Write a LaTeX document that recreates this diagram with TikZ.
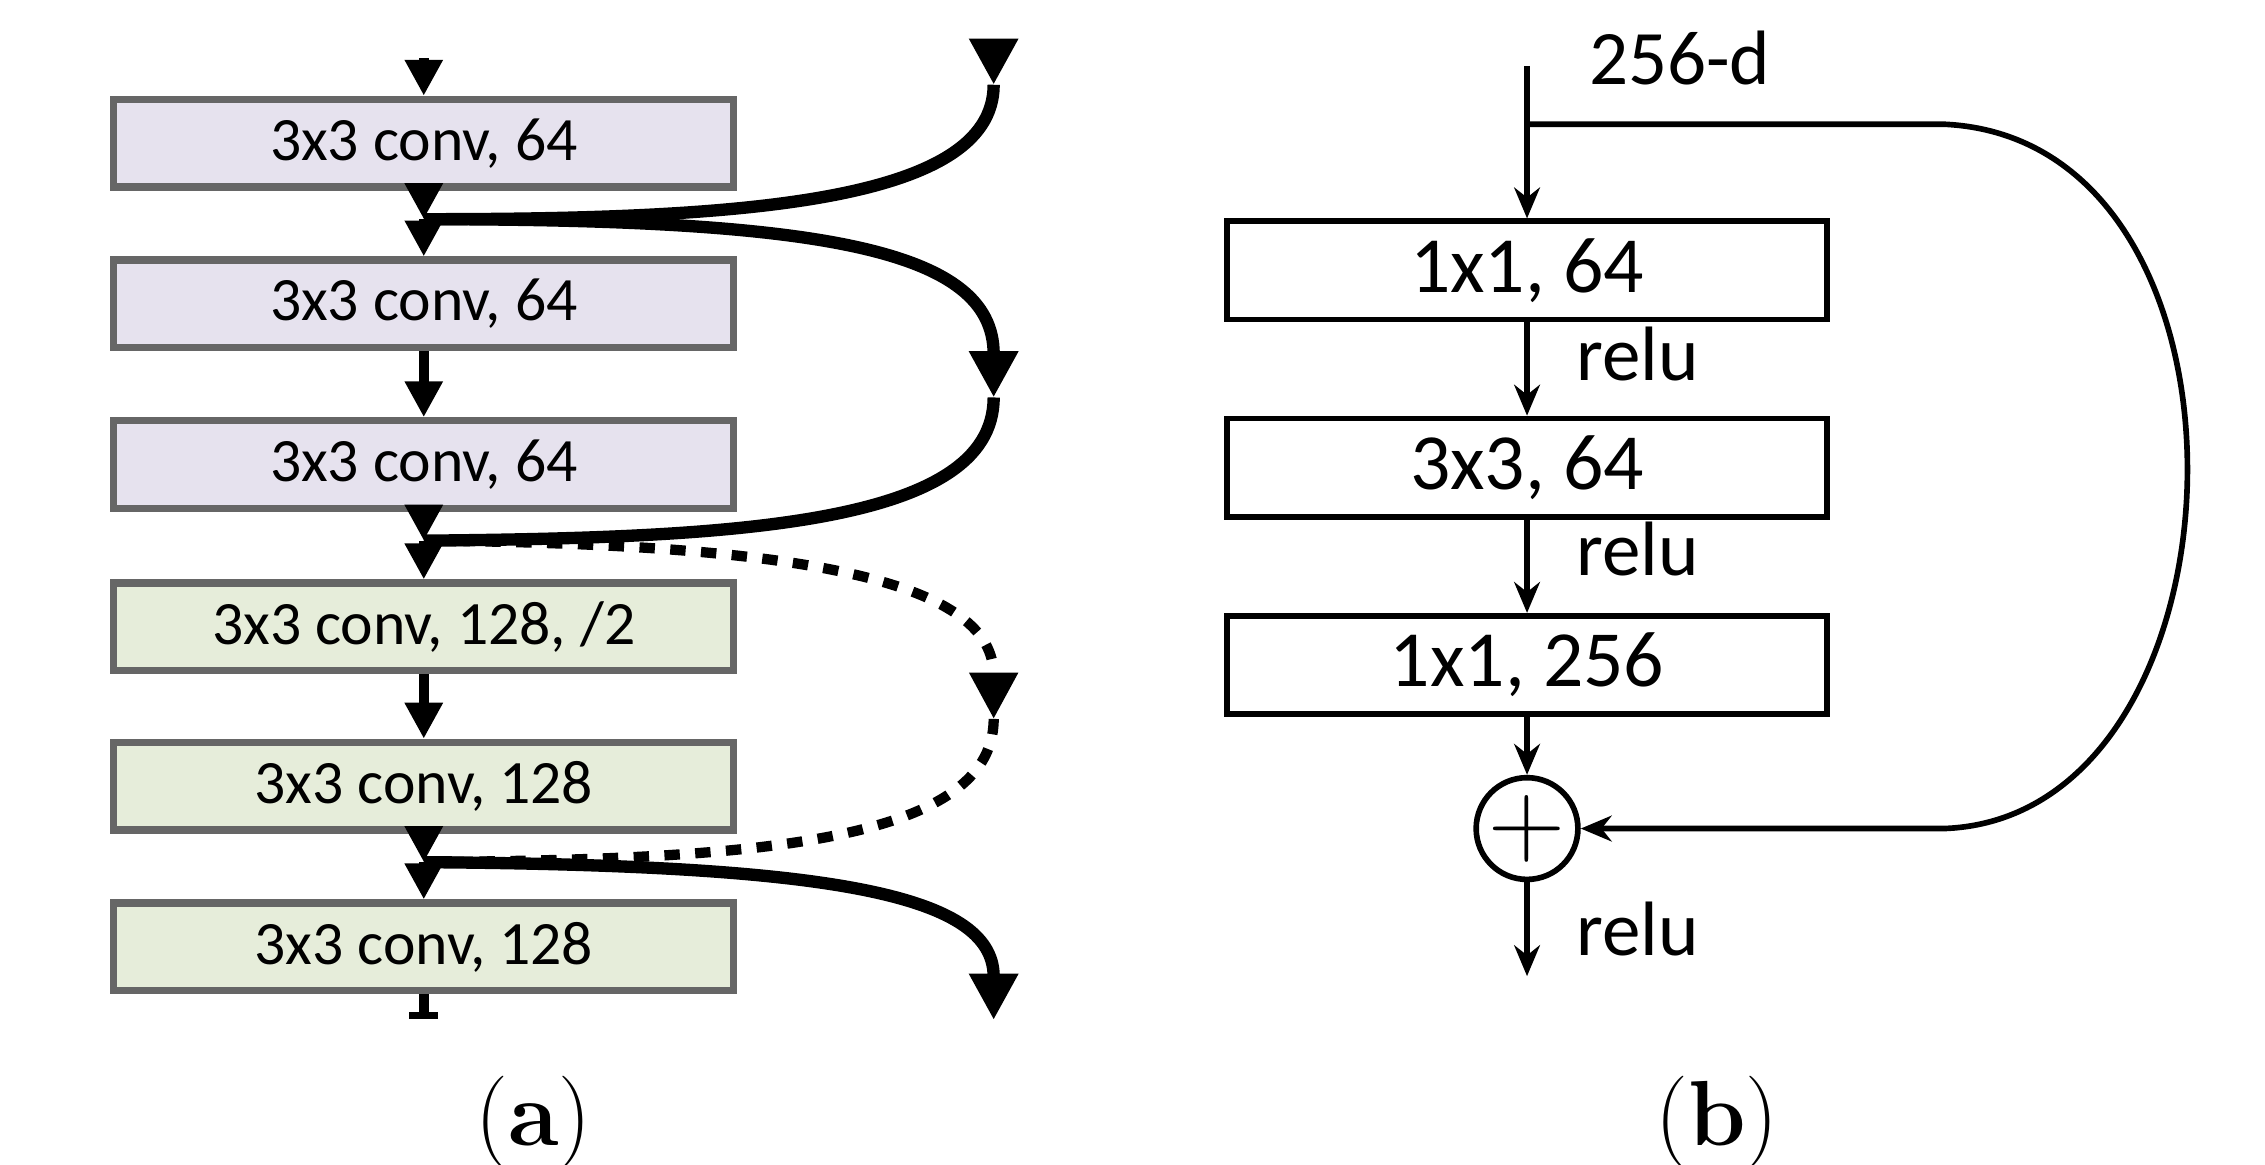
\documentclass[tikz,border=0pt]{standalone}
\usepackage{fontspec}
\setsansfont{Carlito}
\usetikzlibrary{arrows.meta}
\definecolor{lav}{HTML}{E6E2EE}
\definecolor{grn}{HTML}{E6EDDA}
\tikzset{
  blk/.style={draw=gray!80!black, line width=1.4pt, minimum width=4.24cm, minimum height=0.6cm, font=\sffamily\fontsize{12}{12}\selectfont},
  bblk/.style={draw, line width=1.1pt, minimum width=4.1cm, minimum height=0.65cm, font=\sffamily\fontsize{15.5}{15.5}\selectfont},
  fl/.style={line width=2pt, -{Triangle[length=7pt,width=7pt]}},
  sk/.style={line width=1.1pt, -{Stealth[length=6pt,width=5pt]}},
  lbl/.style={font=\sffamily\fontsize{15}{15}\selectfont, anchor=west}
}
\begin{document}
\begin{tikzpicture}[x=0.01cm,y=-0.01cm]
\useasboundingbox (0,0) rectangle (1550,797);
% left panel
\node[blk, fill=lav] (c1) at (290,98) {3x3 conv, 64};
\node[blk, fill=lav] (c2) at (290,208) {3x3 conv, 64};
\node[blk, fill=lav] (c3) at (290,318) {3x3 conv, 64};
\node[blk, fill=grn] (c4) at (290,429) {3x3 conv, 128, /2};
\node[blk, fill=grn] (c5) at (290,538) {3x3 conv, 128};
\node[blk, fill=grn] (c6) at (290,648) {3x3 conv, 128};
\coordinate (top) at (290,40);
\coordinate (bot) at (290,695);
\coordinate (j1) at (290,150);
\coordinate (j2) at (290,370);
\coordinate (j3) at (290,590);
\coordinate (s0) at (680,58);
\coordinate (s1) at (680,272);
\coordinate (s2) at (680,492);
\coordinate (s3) at (680,698);
\draw[fl] (top) -- (c1);
\draw[fl] (c1) -- (j1);
\draw[fl] (j1) -- (c2);
\draw[fl] (c2) -- (c3);
\draw[fl] (c3) -- (j2);
\draw[fl] (j2) -- (c4);
\draw[fl] (c4) -- (c5);
\draw[fl] (c5) -- (j3);
\draw[fl] (j3) -- (c6);
\draw[line width=2pt] (c6) -- (bot);
\draw[line width=1.5pt] (280,695) -- (300,695);
% skip connections
\draw[line width=2.4pt] (s0) .. controls (680,140) and (500,150) .. (j1);
\draw[line width=2.4pt, -{Triangle[length=9pt,width=9pt]}] (680,40) -- (s0);
\draw[line width=2.4pt, -{Triangle[length=9pt,width=9pt]}] (j1) .. controls (560,150) and (680,170) .. (s1);
\draw[line width=2.4pt] (s1) .. controls (680,360) and (500,368) .. (j2);
\draw[line width=2pt, dashed, -{Triangle[length=9pt,width=9pt]}] (j2) .. controls (560,372) and (680,400) .. (s2);
\draw[line width=2pt, dashed] (s2) .. controls (680,580) and (500,588) .. (j3);
\draw[line width=2.4pt, -{Triangle[length=9pt,width=9pt]}] (j3) .. controls (560,592) and (680,610) .. (s3);
% right panel
\node[bblk] (b1) at (1045,185) {1x1, 64};
\node[bblk] (b2) at (1045,320) {3x3, 64};
\node[bblk] (b3) at (1045,455) {1x1, 256};
\node[draw, circle, line width=1.1pt, minimum size=0.6cm, inner sep=0pt, font=\fontsize{20}{20}\selectfont] (add) at (1045,567) {$+$};
\coordinate (in) at (1045,45);
\coordinate (fork) at (1045,85);
\coordinate (out) at (1045,668);
\node[lbl] (dim) at (1075,40) {256-d};
\draw[sk] (in) -- (b1);
\draw[sk] (b1) -- (b2) node[lbl, midway, xshift=0.2cm, yshift=0.1cm] {relu};
\draw[sk] (b2) -- (b3) node[lbl, midway, xshift=0.2cm, yshift=0.12cm] {relu};
\draw[sk] (b3) -- (add);
\draw[sk] (add) -- (out) node[lbl, pos=0.5, xshift=0.2cm] {relu};
\draw[sk] (fork) -- (1330,85) .. controls (1560,95) and (1545,560) .. (1330,567) -- (add);
% captions
\node[font=\fontsize{18}{18}\selectfont] (capa) at (365,768) {(\textbf{a})};
\node[font=\fontsize{18}{18}\selectfont] (capb) at (1175,768) {(\textbf{b})};
\end{tikzpicture}
\end{document}
